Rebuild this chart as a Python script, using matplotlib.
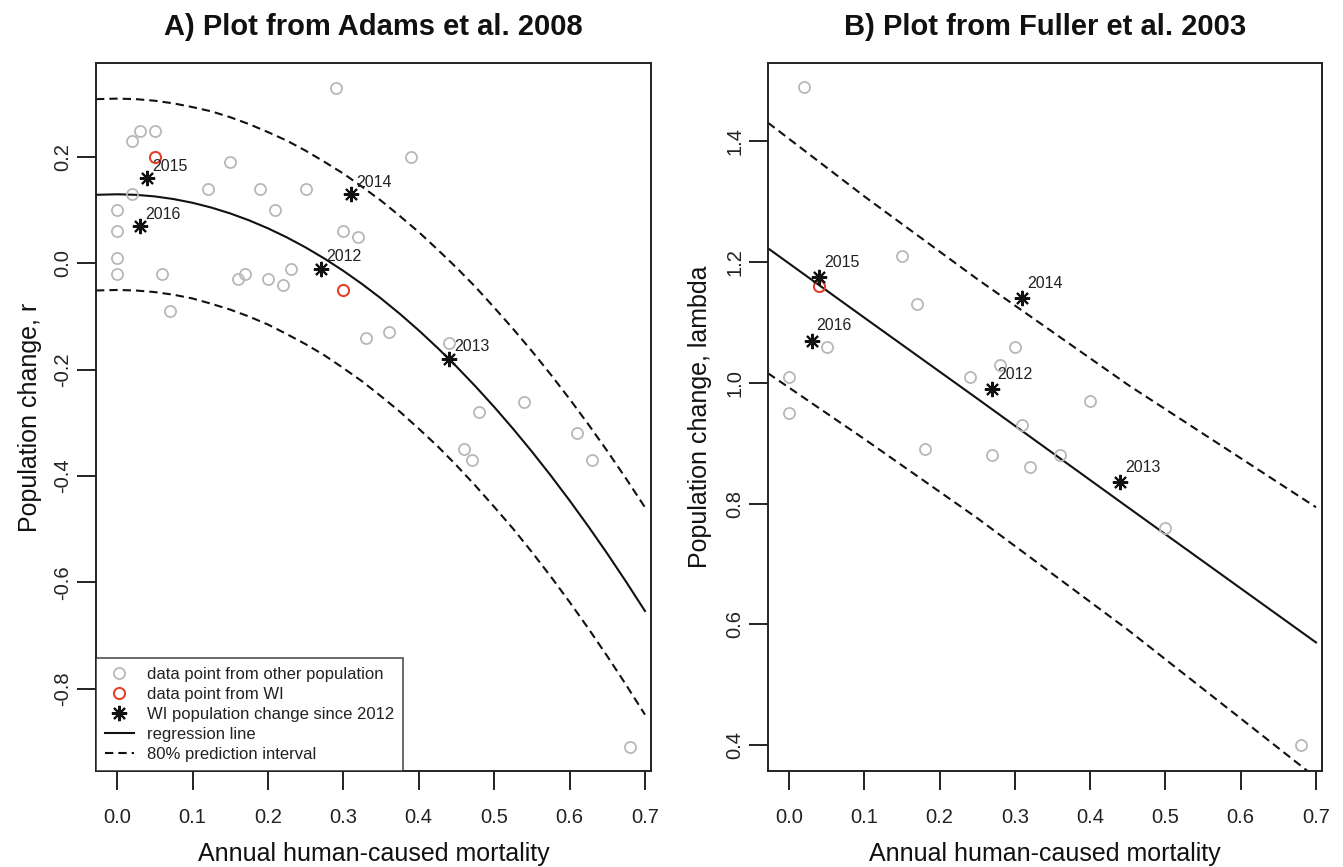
import matplotlib
matplotlib.use("Agg")
import matplotlib.pyplot as plt
from matplotlib.lines import Line2D

plt.rcParams['font.family'] = ['Liberation Sans', 'DejaVu Sans']

# ---- Panel A: Adams et al. 2008 ----
adams_x = [0.29, 0.03, 0.05, 0.02, 0.39, 0.15, 0.12, 0.19, 0.25, 0.02, 0.21, 0.0,
           0.0, 0.30, 0.32, 0.0, 0.0, 0.06, 0.23, 0.17, 0.16, 0.20, 0.22, 0.07,
           0.33, 0.36, 0.44, 0.54, 0.48, 0.61, 0.46, 0.47, 0.63, 0.68]
adams_y = [0.33, 0.25, 0.25, 0.23, 0.20, 0.19, 0.14, 0.14, 0.14, 0.13, 0.10, 0.10,
           0.06, 0.06, 0.05, 0.01, -0.02, -0.02, -0.01, -0.02, -0.03, -0.03, -0.04, -0.09,
           -0.14, -0.13, -0.15, -0.26, -0.28, -0.32, -0.35, -0.37, -0.37, -0.91]
adams_wi_x = [0.05, 0.30]
adams_wi_y = [0.20, -0.05]
years = ['2012', '2013', '2014', '2015', '2016']
wi_mort = [0.27, 0.44, 0.31, 0.04, 0.03]
wi_r = [-0.01, -0.18, 0.13, 0.16, 0.07]

curve_x = [-0.028, 0.0, 0.025, 0.05, 0.075, 0.1, 0.125, 0.15, 0.175, 0.2, 0.225,
           0.25, 0.275, 0.3, 0.325, 0.35, 0.375, 0.4, 0.425, 0.45, 0.475, 0.5,
           0.525, 0.55, 0.575, 0.6, 0.625, 0.65, 0.675, 0.7]
adams_fit = [0.129, 0.13, 0.129, 0.126, 0.121, 0.114, 0.105, 0.094, 0.081, 0.066, 0.049,
             0.03, 0.009, -0.014, -0.039, -0.066, -0.095, -0.126, -0.159, -0.194, -0.231,
             -0.27, -0.311, -0.354, -0.399, -0.446, -0.495, -0.546, -0.599, -0.654]
adams_upr = [0.309, 0.31, 0.309, 0.306, 0.301, 0.294, 0.286, 0.275, 0.262, 0.247, 0.231,
             0.212, 0.191, 0.169, 0.144, 0.118, 0.089, 0.059, 0.026, -0.008, -0.044,
             -0.083, -0.123, -0.165, -0.209, -0.255, -0.303, -0.353, -0.405, -0.459]
adams_lwr = [-0.051, -0.05, -0.051, -0.054, -0.059, -0.066, -0.076, -0.087, -0.1, -0.115,
             -0.133, -0.152, -0.173, -0.197, -0.222, -0.25, -0.279, -0.311, -0.344, -0.38,
             -0.418, -0.458, -0.499, -0.543, -0.589, -0.637, -0.687, -0.739, -0.793, -0.849]

# ---- Panel B: Fuller et al. 2003 ----
fuller_x = [0.02, 0.15, 0.17, 0.05, 0.30, 0.28, 0.24, 0.40, 0.31, 0.18, 0.27, 0.36,
            0.32, 0.50, 0.0, 0.0, 0.68]
fuller_y = [1.49, 1.21, 1.13, 1.06, 1.06, 1.03, 1.01, 0.97, 0.93, 0.89, 0.88, 0.88,
            0.86, 0.76, 1.01, 0.95, 0.40]
fuller_wi_x = [0.04]
fuller_wi_y = [1.16]
wi_lambda = [0.99, 0.835, 1.14, 1.175, 1.07]

line_x = [-0.028, 0.1, 0.25, 0.45, 0.7]
fuller_fit = [1.223, 1.108, 0.974, 0.794, 0.570]
fuller_upr = [1.431, 1.309, 1.172, 0.997, 0.794]
fuller_lwr = [1.016, 0.907, 0.776, 0.591, 0.346]

grey = '#b8b8b8'
red = '#e2422c'
star = (8, 2, 0)

fig = plt.figure(figsize=(13.43, 8.67), dpi=100)
W, H = 1343, 867
ax1 = fig.add_axes([96 / W, 1 - 771 / H, 555 / W, 708 / H])
ax2 = fig.add_axes([768 / W, 1 - 771 / H, 554 / W, 708 / H])


def style(ax, yticks):
    ax.set_xlim(-0.028, 0.708)
    ax.set_xticks([0.0, 0.1, 0.2, 0.3, 0.4, 0.5, 0.6, 0.7])
    ax.set_xticklabels(['%.1f' % t for t in ax.get_xticks()])
    ax.set_yticks(yticks)
    ax.set_yticklabels(['%.1f' % t for t in yticks], rotation=90, va='center')
    ax.tick_params(direction='out', length=14, width=1.4, labelsize=14.5,
                   color='#222222', labelcolor='#222222')
    ax.tick_params(axis='x', pad=12.5)
    ax.tick_params(axis='y', pad=3)
    for s in ax.spines.values():
        s.set_linewidth(1.4)
        s.set_color('#222222')
    ax.set_xlabel('Annual human-caused mortality', fontsize=18, color='#111111')
    ax.xaxis.set_label_coords(0.5, -0.1)


def years_text(ax, xs, ys, dx, dy):
    for lab, x, y in zip(years, xs, ys):
        ax.annotate(lab, (x, y), xytext=(dx, dy), textcoords='offset points',
                    ha='left', va='baseline', fontsize=11.5, color='#222222')


# Panel A
ax1.plot(curve_x, adams_upr, color='#111111', lw=1.5, dashes=(4, 2.4))
ax1.plot(curve_x, adams_lwr, color='#111111', lw=1.5, dashes=(4, 2.4))
ax1.plot(curve_x, adams_fit, color='#111111', lw=1.5)
ax1.plot(adams_x, adams_y, 'o', mfc='none', mec=grey, ms=8, mew=1.3, ls='none')
ax1.plot(adams_wi_x, adams_wi_y, 'o', mfc='none', mec=red, ms=8, mew=1.5, ls='none')
ax1.plot(wi_mort, wi_r, marker=star, color='#111111', ms=11, mew=1.5, ls='none')
years_text(ax1, wi_mort, wi_r, 3.8, 5.5)
style(ax1, [-0.8, -0.6, -0.4, -0.2, 0.0, 0.2])
ax1.set_ylim(-0.955, 0.377)
ax1.set_ylabel('Population change, r', fontsize=18, color='#111111')
ax1.yaxis.set_label_coords(-0.097, 0.5)
ax1.set_title('A) Plot from Adams et al. 2008', fontsize=21, fontweight='bold',
              pad=20, color='#111111')

handles = [
    Line2D([], [], marker='o', mfc='none', mec=grey, ms=8, mew=1.3, ls='none'),
    Line2D([], [], marker='o', mfc='none', mec=red, ms=8, mew=1.5, ls='none'),
    Line2D([], [], marker=star, color='#111111', ms=11, mew=1.5, ls='none'),
    Line2D([], [], color='#111111', lw=1.5),
    Line2D([], [], color='#111111', lw=1.5, dashes=(4, 2.4)),
]
labels = ['data point from other population', 'data point from WI',
          'WI population change since 2012', 'regression line',
          '80% prediction interval']
leg = ax1.legend(handles, labels, loc='lower left', fontsize=12,
                 frameon=True, fancybox=False, edgecolor='#222222',
                 handlelength=1.7, handletextpad=0.8, labelspacing=0.3,
                 borderpad=0.55, borderaxespad=0)
leg.get_frame().set_linewidth(1.2)
for t in leg.get_texts():
    t.set_color('#222222')

# Panel B
ax2.plot(line_x, fuller_upr, color='#111111', lw=1.5, dashes=(4, 2.4))
ax2.plot(line_x, fuller_lwr, color='#111111', lw=1.5, dashes=(4, 2.4))
ax2.plot(line_x, fuller_fit, color='#111111', lw=1.5)
ax2.plot(fuller_x, fuller_y, 'o', mfc='none', mec=grey, ms=8, mew=1.3, ls='none')
ax2.plot(fuller_wi_x, fuller_wi_y, 'o', mfc='none', mec=red, ms=8, mew=1.5, ls='none')
ax2.plot(wi_mort, wi_lambda, marker=star, color='#111111', ms=11, mew=1.5, ls='none')
years_text(ax2, wi_mort, wi_lambda, 3.3, 7.5)
style(ax2, [0.4, 0.6, 0.8, 1.0, 1.2, 1.4])
ax2.set_ylim(0.357, 1.530)
ax2.set_ylabel('Population change, lambda', fontsize=18, color='#111111')
ax2.yaxis.set_label_coords(-0.101, 0.5)
ax2.set_title('B) Plot from Fuller et al. 2003', fontsize=21, fontweight='bold',
              pad=20, color='#111111')

fig.savefig('out.png', dpi=100)
